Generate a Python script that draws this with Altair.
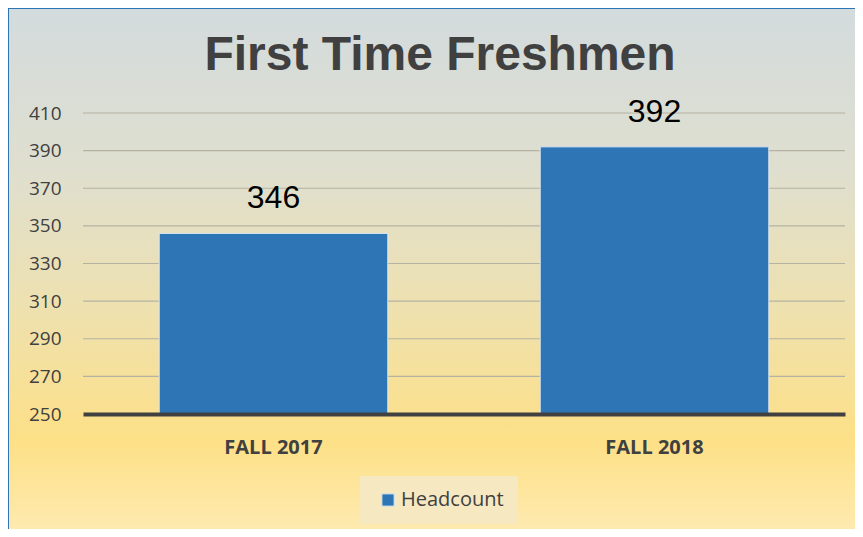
import altair as alt
import pandas as pd

categories = ["FALL 2017", "FALL 2018"]
headcount = [346, 392]
series_name = "Headcount"
y_ticks = [250, 270, 290, 310, 330, 350, 370, 390, 410]
chart_title = "First Time Freshmen"

df = pd.DataFrame({"term": categories, "value": headcount, "series": [series_name] * 2})
grid_df = pd.DataFrame({"tick": y_ticks[1:]})

W, H = 762, 301
PL, PT, PR, PB = 75, 105, 10, 115

bg = alt.Chart(pd.DataFrame({"a": [0]})).mark_rect(
    fill=alt.LinearGradient(
        gradient="linear", x1=0, y1=0, x2=0, y2=1,
        stops=[
            alt.GradientStop(offset=0.0, color="#d3dbdd"),
            alt.GradientStop(offset=0.3, color="#dfdfcf"),
            alt.GradientStop(offset=0.55, color="#eee1b0"),
            alt.GradientStop(offset=0.8, color="#fde087"),
            alt.GradientStop(offset=1.0, color="#feecb8"),
        ],
    ),
    stroke="#2e75b6", strokeWidth=2,
).encode(
    x=alt.value(-PL), x2=alt.value(W + PR + 20),
    y=alt.value(-PT), y2=alt.value(H + PB + 20),
)

title = alt.Chart(pd.DataFrame({"t": [chart_title]})).mark_text(
    font="Liberation Sans", fontSize=48, fontWeight="bold", color="#404040",
    baseline="alphabetic", align="center",
).encode(x=alt.value(440 - 83), y=alt.value(70 - 113), text="t:N")

y_scale = alt.Scale(domain=[250, 410], nice=False, zero=False)
y_axis = alt.Axis(
    values=y_ticks, labelFont="Open Sans", labelFontSize=19, labelColor="#404040",
    ticks=False, domain=False, grid=False, labelPadding=22, zindex=1,
    labelOverlap=False,
)

grid = alt.Chart(grid_df).mark_rule(color="#b5b2a2", strokeWidth=1.2).encode(
    y=alt.Y("tick:Q", scale=y_scale, axis=y_axis, title=None),
    x=alt.value(0), x2=alt.value(W),
)

x_axis = alt.Axis(
    labelAngle=0, labelFont="Open Sans", labelFontWeight="bold", labelFontSize=20,
    labelColor="#404040", ticks=False, domain=True, domainColor="#404040",
    domainWidth=4, labelPadding=23, zindex=1,
)
x_enc = alt.X(
    "term:N", sort=categories, title=None,
    scale=alt.Scale(paddingInner=0.4, paddingOuter=0.2), axis=x_axis,
)
y_enc = alt.Y("value:Q", title=None, scale=y_scale, axis=y_axis)

bars = alt.Chart(df).mark_bar(stroke="#dce6f0", strokeWidth=1, clip=True).encode(
    x=x_enc, y=y_enc,
    color=alt.Color(
        "series:N", scale=alt.Scale(range=["#2e75b6"]), title=None,
        legend=alt.Legend(
            orient="none", legendX=277, legendY=363, fillColor="#f6e8c0",
            padding=14, labelFont="Open Sans", labelFontSize=20, labelColor="#404040",
            symbolType="square", symbolSize=150, symbolStrokeColor="#dce6f0",
            symbolStrokeWidth=1, labelLimit=300, offset=0, symbolOffset=4,
            labelOffset=3, rowPadding=0,
        ),
    ),
)

labels = alt.Chart(df).mark_text(
    font="Liberation Sans", fontSize=32, color="#000000", baseline="alphabetic", dy=-25
).encode(x=x_enc, y=y_enc, text="value:Q")

chart = alt.layer(bg, title, grid, bars, labels).properties(
    width=W, height=H,
    autosize=alt.AutoSizeParams(type="none"),
    padding={"left": PL, "top": PT, "right": PR, "bottom": PB},
).configure_view(stroke=None).configure(background="#ffffff")

chart.save("out.html", embed_options={"renderer": "svg", "actions": False})
